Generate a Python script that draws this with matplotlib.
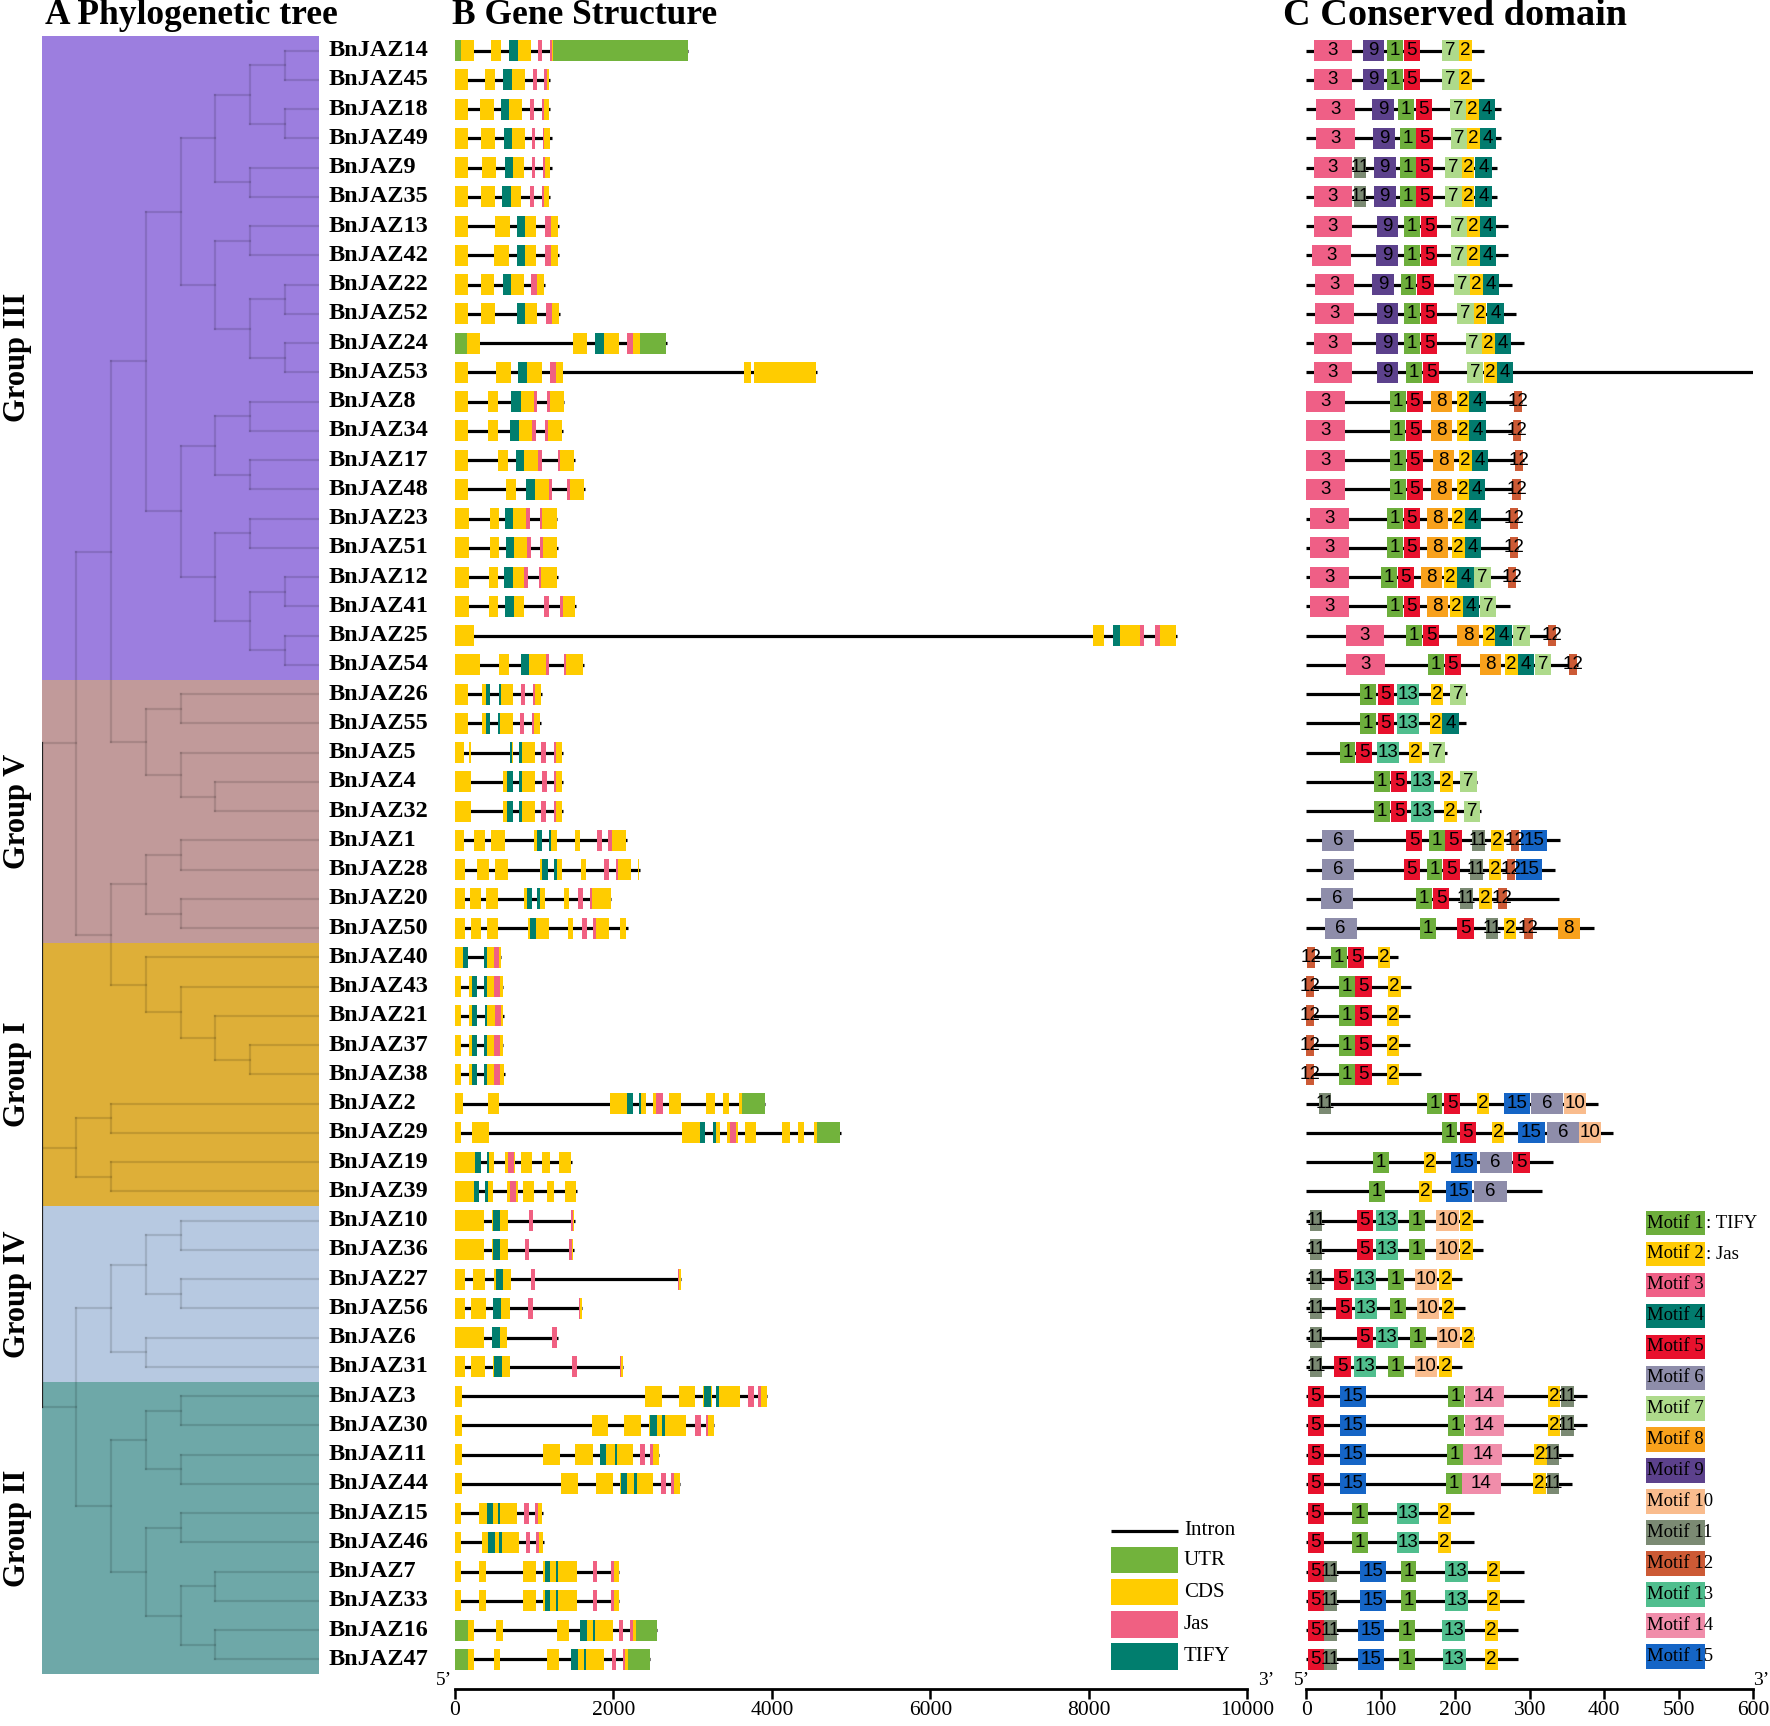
import matplotlib.pyplot as plt
from matplotlib.patches import Rectangle

plt.rcParams["font.family"] = ["Liberation Serif", "DejaVu Serif"]

# ---------------- data ----------------
gene_order = [14, 45, 18, 49, 9, 35, 13, 42, 22, 52, 24, 53, 8, 34, 17, 48, 23, 51, 12, 41, 25, 54,
              26, 55, 5, 4, 32, 1, 28, 20, 50, 40, 43, 21, 37, 38, 2, 29, 19, 39,
              10, 36, 27, 56, 6, 31, 3, 30, 11, 44, 15, 46, 7, 33, 16, 47]

group3 = (((((14, 45), (18, 49)), (9, 35)), ((13, 42), ((22, 52), (24, 53)))),
          (((8, 34), (17, 48)), ((23, 51), ((12, 41), (25, 54)))))
group5a = ((26, 55), (5, (4, 32)))
group5b = ((1, 28), (20, 50))
group1a = (40, (43, (21, (37, 38))))
group1b = ((2, 29), (19, 39))
group4 = (((10, 36), (27, 56)), (6, 31))
group2 = (((3, 30), (11, 44)), ((15, 46), ((7, 33), (16, 47))))
tree = (((group3, group5a), (group5b, group1a)), group1b, (group4, group2))

group_names = ["Group III", "Group V", "Group I", "Group IV", "Group II"]
group_rows = [(0, 21), (22, 30), (31, 39), (40, 45), (46, 55)]
group_colors = ["#9C7EDF", "#C19A9A", "#DEAF38", "#B7C9E1", "#6EA8A8"]

# gene structure (bp)
gene_len = {14: 2936, 45: 1197, 18: 1197, 49: 1221, 9: 1221, 35: 1197, 13: 1308, 42: 1308,
            22: 1134, 52: 1323, 24: 2674, 53: 4569, 8: 1381, 34: 1361, 17: 1516, 48: 1638,
            23: 1294, 51: 1303, 12: 1303, 41: 1526, 25: 9110, 54: 1623, 26: 1100, 55: 1090,
            5: 1361, 4: 1361, 32: 1361, 1: 2170, 28: 2337, 20: 1975, 50: 2179, 40: 579,
            43: 606, 21: 615, 37: 606, 38: 633, 2: 3910, 29: 4868, 19: 1474, 39: 1546,
            10: 1514, 36: 1501, 27: 2857, 56: 1602, 6: 1298, 31: 2125, 3: 3941, 30: 3275,
            11: 2578, 44: 2836, 15: 1111, 46: 1124, 7: 2074, 33: 2074, 16: 2545, 47: 2468}

utr = {14: [(0, 73), (1240, 2936)], 24: [(0, 150), (2330, 2665)], 2: [(3625, 3910)],
       29: [(4574, 4859)], 16: [(0, 162), (2287, 2545)], 47: [(0, 162), (2190, 2468)]}

cds = {14: [(73, 237), (455, 581), (688, 959), (1200, 1240)],
       45: [(0, 165), (383, 509), (610, 887), (1129, 1187)],
       18: [(0, 165), (320, 489), (581, 848), (1095, 1182)],
       49: [(0, 165), (334, 504), (615, 882), (1110, 1206)],
       9: [(0, 165), (344, 518), (630, 872), (1114, 1206)],
       35: [(0, 165), (329, 504), (596, 838), (1095, 1187)],
       13: [(0, 165), (504, 693), (785, 1027), (1139, 1298)],
       42: [(0, 165), (499, 688), (785, 1027), (1139, 1298)],
       22: [(0, 170), (325, 494), (601, 867), (964, 1129)],
       52: [(0, 170), (325, 509), (780, 1042), (1148, 1308)],
       24: [(150, 315), (1487, 1672), (1773, 2074), (2171, 2330)],
       53: [(0, 165), (514, 703), (799, 1105), (1202, 1361), (3643, 3735), (3769, 4559)],
       8: [(0, 165), (412, 538), (712, 1042), (1168, 1376)],
       34: [(0, 165), (412, 538), (693, 1022), (1143, 1352)],
       17: [(0, 165), (538, 669), (765, 1100), (1298, 1506)],
       48: [(0, 165), (644, 775), (901, 1231), (1420, 1628)],
       23: [(0, 184), (441, 552), (630, 950), (1071, 1284)],
       51: [(0, 184), (446, 557), (640, 959), (1080, 1294)],
       12: [(0, 184), (436, 547), (625, 921), (1056, 1294)],
       41: [(0, 184), (436, 547), (630, 877), (1332, 1516)],
       25: [(0, 240), (8051, 8194), (8308, 8692), (8835, 9106)],
       54: [(0, 320), (562, 683), (829, 1192), (1371, 1613)],
       26: [(0, 165), (344, 446), (557, 739), (984, 1090)],
       55: [(0, 165), (344, 441), (547, 729), (970, 1080)],
       5: [(0, 121), (174, 208), (693, 732), (814, 1013), (1250, 1352)],
       4: [(0, 208), (610, 731), (814, 1013), (1250, 1352)],
       32: [(0, 208), (610, 731), (814, 1013), (1250, 1352)],
       1: [(0, 121), (242, 378), (460, 635), (1003, 1100), (1187, 1284), (1516, 1575), (1933, 2161)],
       28: [(0, 131), (285, 425), (506, 673), (1076, 1171), (1248, 1356), (1591, 1654), (2029, 2224), (2314, 2328)],
       20: [(0, 131), (190, 325), (398, 538), (877, 967), (1040, 1139), (1379, 1442), (1700, 1966)],
       50: [(0, 131), (199, 334), (407, 538), (922, 1184), (1428, 1487), (1745, 1944), (2079, 2165)],
       40: [(0, 167), (371, 579)],
       43: [(0, 77), (172, 280), (371, 606)],
       21: [(0, 77), (172, 285), (380, 610)],
       37: [(0, 77), (172, 285), (371, 606)],
       38: [(0, 77), (172, 285), (371, 624)],
       2: [(0, 108), (416, 551), (1953, 2246), (2324, 2414), (2504, 2631), (2708, 2848), (3173, 3282), (3381, 3458), (3580, 3625)],
       29: [(0, 81), (212, 425), (2870, 3159), (3263, 3349), (3435, 3571), (3661, 3797), (4122, 4226), (4335, 4407), (4529, 4574)],
       19: [(0, 325), (402, 493), (633, 764), (832, 972), (1094, 1198), (1311, 1460)],
       39: [(0, 307), (380, 484), (655, 791), (863, 994), (1162, 1252), (1388, 1532)],
       10: [(0, 371), (470, 673), (1460, 1501)],
       36: [(0, 371), (470, 673), (1446, 1492)],
       27: [(0, 122), (226, 384), (497, 714), (2811, 2848)],
       56: [(0, 123), (207, 388), (484, 691), (1563, 1602)],
       6: [(0, 368), (465, 659)],
       31: [(0, 123), (207, 381), (484, 691), (2080, 2119)],
       3: [(0, 90), (2403, 2616), (2823, 3030), (3133, 3243), (3295, 3598), (3824, 3941)],
       30: [(0, 90), (1725, 1938), (2132, 2351), (2455, 2920), (3165, 3275)],
       11: [(0, 90), (1111, 1324), (1518, 1738), (1828, 2248), (2468, 2578)],
       44: [(0, 90), (1344, 1557), (1777, 1990), (2080, 2506), (2726, 2836)],
       15: [(0, 78), (310, 788), (1014, 1105)],
       46: [(0, 78), (336, 814), (1027, 1118)],
       7: [(0, 78), (304, 388), (859, 1027), (1111, 1538), (1970, 2074)],
       33: [(0, 78), (304, 388), (859, 1027), (1111, 1538), (1970, 2074)],
       16: [(162, 245), (523, 607), (1286, 1441), (1583, 1996), (2209, 2287)],
       47: [(162, 245), (491, 575), (1163, 1311), (1466, 1886), (2119, 2190)]}

jas = {14: [(1046, 1105), (1200, 1230)], 45: [(984, 1032), (1129, 1158)],
       18: [(950, 998), (1095, 1119)], 49: [(969, 1017), (1110, 1129)],
       9: [(969, 1017), (1114, 1139)], 35: [(950, 1003), (1095, 1119)],
       13: [(1139, 1211)], 42: [(1139, 1211)], 22: [(964, 1042)], 52: [(1148, 1226)],
       24: [(2171, 2248)], 53: [(1202, 1274)], 8: [(993, 1042), (1168, 1197)],
       34: [(969, 1022), (1143, 1177)], 17: [(1047, 1100), (1298, 1327)],
       48: [(1187, 1231), (1420, 1454)], 23: [(896, 950), (1071, 1105)],
       51: [(911, 959), (1080, 1110)], 12: [(877, 921), (1056, 1085)],
       41: [(1129, 1192), (1332, 1366)], 25: [(8650, 8692), (8835, 8892)],
       54: [(1153, 1192), (1371, 1405)], 26: [(834, 882), (984, 1008)],
       55: [(824, 872), (970, 994)], 5: [(1090, 1148), (1250, 1274)],
       4: [(1100, 1158), (1250, 1274)], 32: [(1090, 1148), (1250, 1274)],
       1: [(1793, 1851), (1933, 1982)], 28: [(1880, 1944), (2029, 2057)],
       20: [(1555, 1618), (1700, 1736)], 50: [(1600, 1663), (1745, 1781)],
       40: [(497, 560)], 43: [(497, 574)], 21: [(506, 579)], 37: [(497, 574)], 38: [(497, 565)],
       2: [(2540, 2622)], 29: [(3471, 3553)], 19: [(673, 746)], 39: [(696, 777)],
       10: [(931, 985), (1460, 1492)], 36: [(886, 940), (1446, 1482)],
       27: [(958, 1012), (2811, 2834)], 56: [(924, 982), (1563, 1583)],
       6: [(1227, 1292)], 31: [(1479, 1537), (2080, 2100)],
       3: [(3702, 3773), (3824, 3863)], 30: [(3030, 3101), (3165, 3198)],
       11: [(2332, 2397), (2468, 2500)], 44: [(2597, 2662), (2726, 2765)],
       15: [(872, 937), (1014, 1046)], 46: [(898, 950), (1027, 1059)],
       7: [(1738, 1796), (1970, 2003)], 33: [(1738, 1796), (1970, 2003)],
       16: [(2074, 2125), (2209, 2242)], 47: [(1983, 2035), (2119, 2151)]}

tify = {14: [(688, 795)], 45: [(610, 722)], 18: [(581, 688)], 49: [(615, 722)], 9: [(630, 736)],
        35: [(596, 703)], 13: [(785, 891)], 42: [(785, 891)], 22: [(601, 707)], 52: [(780, 887)],
        24: [(1773, 1885)], 53: [(799, 916)], 8: [(712, 828)], 34: [(693, 809)], 17: [(765, 877)],
        48: [(901, 1017)], 23: [(630, 736)], 51: [(640, 746)], 12: [(625, 731)], 41: [(630, 741)],
        25: [(8308, 8393)], 54: [(829, 936)], 26: [(392, 446), (557, 582)], 55: [(392, 441), (547, 572)],
        5: [(698, 727), (814, 848)], 4: [(659, 731), (814, 853)], 32: [(659, 731), (814, 853)],
        1: [(1032, 1100), (1187, 1216)], 28: [(1103, 1171), (1248, 1284)],
        20: [(913, 967), (1040, 1076)], 50: [(949, 1026)], 40: [(99, 167), (371, 402)],
        43: [(217, 280), (371, 402)], 21: [(217, 285), (380, 411)], 37: [(217, 285), (371, 402)],
        38: [(217, 285), (371, 402)], 2: [(2170, 2246), (2324, 2351)], 29: [(3092, 3159), (3263, 3291)],
        19: [(258, 325), (402, 425)], 39: [(240, 307), (380, 416)], 10: [(484, 574)], 36: [(484, 574)],
        27: [(520, 610)], 56: [(484, 581)], 6: [(465, 575)], 31: [(497, 594)],
        3: [(3146, 3230), (3295, 3327)], 30: [(2468, 2545), (2617, 2649)],
        11: [(1828, 1906), (2016, 2048)], 44: [(2093, 2171), (2261, 2293)],
        15: [(400, 485), (543, 575)], 46: [(420, 504), (562, 594)],
        7: [(1131, 1202), (1273, 1305)], 33: [(1131, 1202), (1273, 1305)],
        16: [(1583, 1673), (1738, 1764)], 47: [(1466, 1550), (1628, 1660)]}

# conserved motifs (aa): (motif, start)
motif_width = {1: 21, 2: 17, 3: 52, 4: 22, 5: 22, 6: 43, 7: 22, 8: 29, 9: 29,
               10: 30, 11: 17, 12: 11, 13: 30, 14: 52, 15: 35}
motif_colors = {1: "#6DAE3C", 2: "#FFCB05", 3: "#EF5F86", 4: "#027B6E", 5: "#E8112D",
                6: "#8E8DAA", 7: "#AEDA8B", 8: "#F8A11C", 9: "#5C418C", 10: "#F9BC8D",
                11: "#7B8A73", 12: "#CC5A35", 13: "#50BE8E", 14: "#F08DAA", 15: "#1565C6"}
prot_len = {14: 239, 45: 239, 18: 261, 49: 262, 9: 256, 35: 256, 13: 271, 42: 271, 22: 277,
            52: 282, 24: 292, 53: 602, 8: 290, 34: 289, 17: 292, 48: 288, 23: 284, 51: 284,
            12: 283, 41: 273, 25: 335, 54: 365, 26: 216, 55: 215, 5: 189, 4: 230, 32: 235,
            1: 341, 28: 334, 20: 339, 50: 386, 40: 124, 43: 141, 21: 139, 37: 139, 38: 154,
            2: 392, 29: 412, 19: 332, 39: 316, 10: 238, 36: 238, 27: 209, 56: 213, 6: 226,
            31: 209, 3: 377, 30: 377, 11: 358, 44: 357, 15: 226, 46: 226, 7: 293, 33: 293,
            16: 284, 47: 284}
motifs = {
    14: [(3, 10), (9, 76), (1, 109), (5, 131), (7, 183), (2, 205)],
    45: [(3, 10), (9, 76), (1, 109), (5, 131), (7, 183), (2, 205)],
    18: [(3, 13), (9, 89), (1, 124), (5, 147), (7, 193), (2, 215), (4, 232)],
    49: [(3, 13), (9, 90), (1, 126), (5, 148), (7, 194), (2, 216), (4, 233)],
    9: [(3, 10), (11, 64), (9, 91), (1, 126), (5, 148), (7, 187), (2, 209), (4, 227)],
    35: [(3, 10), (11, 64), (9, 91), (1, 126), (5, 148), (7, 187), (2, 209), (4, 227)],
    13: [(3, 10), (9, 95), (1, 132), (5, 154), (7, 194), (2, 216), (4, 233)],
    42: [(3, 8), (9, 94), (1, 132), (5, 154), (7, 194), (2, 216), (4, 233)],
    22: [(3, 12), (9, 89), (1, 127), (5, 149), (7, 198), (2, 220), (4, 237)],
    52: [(3, 12), (9, 95), (1, 132), (5, 154), (7, 203), (2, 225), (4, 243)],
    24: [(3, 10), (9, 94), (1, 132), (5, 154), (7, 214), (2, 236), (4, 253)],
    53: [(3, 10), (9, 95), (1, 134), (5, 157), (7, 216), (2, 239), (4, 256)],
    8: [(3, 0), (1, 113), (5, 135), (8, 167), (2, 203), (4, 219), (12, 279)],
    34: [(3, 0), (1, 112), (5, 134), (8, 167), (2, 203), (4, 219), (12, 278)],
    17: [(3, 0), (1, 113), (5, 135), (8, 170), (2, 205), (4, 222), (12, 280)],
    48: [(3, 0), (1, 113), (5, 135), (8, 167), (2, 202), (4, 218), (12, 277)],
    23: [(3, 5), (1, 109), (5, 131), (8, 162), (2, 196), (4, 213), (12, 273)],
    51: [(3, 5), (1, 109), (5, 131), (8, 162), (2, 196), (4, 213), (12, 274)],
    12: [(3, 5), (1, 101), (5, 123), (8, 154), (2, 185), (4, 203), (7, 226), (12, 271)],
    41: [(3, 5), (1, 109), (5, 131), (8, 162), (2, 193), (4, 210), (7, 233)],
    25: [(3, 53), (1, 134), (5, 157), (8, 203), (2, 238), (4, 254), (7, 278), (12, 324)],
    54: [(3, 54), (1, 164), (5, 186), (8, 233), (2, 267), (4, 284), (7, 307), (12, 353)],
    26: [(1, 73), (5, 96), (13, 122), (2, 167), (7, 193)],
    55: [(1, 73), (5, 96), (13, 122), (2, 166), (4, 183)],
    5: [(1, 45), (5, 67), (13, 95), (2, 138), (7, 165)],
    4: [(1, 91), (5, 114), (13, 141), (2, 180), (7, 207)],
    32: [(1, 91), (5, 114), (13, 141), (2, 185), (7, 212)],
    1: [(6, 21), (5, 134), (1, 165), (5, 187), (11, 223), (2, 248), (12, 275), (15, 288)],
    28: [(6, 21), (5, 131), (1, 162), (5, 184), (11, 220), (2, 245), (12, 270), (15, 282)],
    20: [(6, 20), (1, 148), (5, 170), (11, 207), (2, 232), (12, 258)],
    50: [(6, 25), (1, 153), (5, 203), (11, 241), (2, 265), (12, 293), (8, 338)],
    40: [(12, 1), (1, 34), (5, 56), (2, 96)],
    43: [(12, 0), (1, 44), (5, 66), (2, 110)],
    21: [(12, 0), (1, 44), (5, 66), (2, 108)],
    37: [(12, 0), (1, 44), (5, 66), (2, 108)],
    38: [(12, 0), (1, 44), (5, 66), (2, 108)],
    2: [(11, 17), (1, 162), (5, 185), (2, 229), (15, 265), (6, 302), (10, 346)],
    29: [(1, 182), (5, 206), (2, 249), (15, 285), (6, 323), (10, 366)],
    19: [(1, 90), (2, 158), (15, 195), (6, 233), (5, 278)],
    39: [(1, 85), (2, 152), (15, 188), (6, 226)],
    10: [(11, 5), (5, 68), (13, 94), (1, 138), (10, 175), (2, 207)],
    36: [(11, 5), (5, 68), (13, 94), (1, 138), (10, 175), (2, 207)],
    27: [(11, 5), (5, 38), (13, 64), (1, 110), (10, 146), (2, 179)],
    56: [(11, 5), (5, 40), (13, 65), (1, 113), (10, 149), (2, 182)],
    6: [(11, 5), (5, 68), (13, 94), (1, 140), (10, 176), (2, 209)],
    31: [(11, 5), (5, 38), (13, 64), (1, 110), (10, 146), (2, 179)],
    3: [(5, 2), (15, 45), (1, 191), (14, 213), (2, 324), (11, 342)],
    30: [(5, 2), (15, 45), (1, 191), (14, 213), (2, 324), (11, 342)],
    11: [(5, 2), (15, 45), (1, 189), (14, 211), (2, 306), (11, 323)],
    44: [(5, 2), (15, 45), (1, 188), (14, 209), (2, 305), (11, 323)],
    15: [(5, 2), (1, 62), (13, 122), (2, 177)],
    46: [(5, 2), (1, 62), (13, 122), (2, 177)],
    7: [(5, 2), (11, 24), (15, 72), (1, 127), (13, 187), (2, 243)],
    33: [(5, 2), (11, 24), (15, 72), (1, 127), (13, 187), (2, 243)],
    16: [(5, 2), (11, 24), (15, 70), (1, 125), (13, 183), (2, 240)],
    47: [(5, 2), (11, 24), (15, 70), (1, 125), (13, 184), (2, 240)],
}

UTR_C, CDS_C, JAS_C, TIFY_C = "#72B33C", "#FFCC00", "#F06082", "#017E6E"

# ---------------- figure ----------------
fig = plt.figure(figsize=(17.7, 17.26), dpi=100)
bottom, height = 0.0216, 0.9575
ylims = (56, -0.5)
ax_t = fig.add_axes([0.0236, bottom, 0.1569, height])
ax_g = fig.add_axes([0.2570, bottom, 0.4477, height])
ax_d = fig.add_axes([0.7379, bottom, 0.2526, height])

row = {g: i for i, g in enumerate(gene_order)}
tip_x = 8

# ---- tree ----
ax_t.set_xlim(0, tip_x)
ax_t.set_ylim(*ylims)
ax_t.axis("off")
for (a, b), c in zip(group_rows, group_colors):
    ax_t.add_patch(Rectangle((0, a - 0.5), tip_x, b - a + 1, color=c, lw=0, zorder=0))

branch_kw = dict(color="black", alpha=0.13, lw=1.6, zorder=2)


def draw(node, depth):
    if isinstance(node, int):
        return row[node], tip_x
    ys = []
    for ch in node:
        cy, cx = draw(ch, depth + 1)
        ax_t.plot([depth, cx], [cy, cy], **branch_kw)
        ys.append(cy)
    if depth == 0:
        ax_t.plot([0, 0], [ys[0], ys[-1]], color="#222222", lw=1.6, zorder=3)
    else:
        ax_t.plot([depth, depth], [ys[0], ys[-1]], **branch_kw)
    return (ys[0] + ys[-1]) / 2, depth


draw(tree, 0)

for g in gene_order:
    ax_t.text(tip_x + 0.26, row[g], f"BnJAZ{g}", fontsize=17.5, fontweight="bold",
              va="center", ha="left", clip_on=False)

for name, (a, b) in zip(group_names, group_rows):
    ax_t.text(-0.7, (a + b) / 2, name, rotation=90, fontsize=22, fontweight="bold",
              ha="center", va="center", clip_on=False)

# ---- gene structure ----
h = 0.72
ax_g.set_xlim(0, 10000)
ax_g.set_ylim(*ylims)
for g in gene_order:
    y = row[g]
    ax_g.plot([0, gene_len[g]], [y, y], color="black", lw=2.3, solid_capstyle="butt", zorder=1)
    for blocks, col, z in ((utr, UTR_C, 2), (cds, CDS_C, 2), (jas, JAS_C, 3), (tify, TIFY_C, 3)):
        for s, e in blocks.get(g, []):
            ax_g.add_patch(Rectangle((s, y - h / 2), e - s, h, color=col, lw=0, zorder=z))

# legend of gene structure
leg_x0, leg_x1 = 8280, 9120
ax_g.plot([leg_x0, leg_x1], [50.6, 50.6], color="black", lw=2.3, solid_capstyle="butt")
ax_g.text(leg_x1 + 80, 50.6, "Intron", fontsize=15, va="center")
for yy, col, lab in zip([51.6, 52.7, 53.8, 54.9], [UTR_C, CDS_C, JAS_C, TIFY_C],
                        ["UTR", "CDS", "Jas", "TIFY"]):
    ax_g.add_patch(Rectangle((leg_x0, yy - 0.45), leg_x1 - leg_x0, 0.9, color=col, lw=0))
    ax_g.text(leg_x1 + 80, yy, lab, fontsize=15, va="center")

# ---- conserved domains ----
ax_d.set_xlim(0, 600)
ax_d.set_ylim(*ylims)
for g in gene_order:
    y = row[g]
    ax_d.plot([0, prot_len[g]], [y, y], color="black", lw=2.3, solid_capstyle="butt", zorder=1)
    for m, s in motifs[g]:
        w = motif_width[m]
        ax_d.add_patch(Rectangle((s, y - h / 2), w, h, color=motif_colors[m], lw=0, zorder=2))
        ax_d.text(s + w / 2, y, str(m), fontsize=13.5, family="Liberation Sans",
                  ha="center", va="center", zorder=3)

# motif legend
for k in range(1, 16):
    yy = 40.08 + (k - 1) * 1.058
    ax_d.add_patch(Rectangle((456, yy - 0.42), 79, 0.84, color=motif_colors[k], lw=0))
    ax_d.text(457, yy, f"Motif {k}", fontsize=13.5, va="center", ha="left", clip_on=False)
ax_d.text(537, 40.08, ": TIFY", fontsize=13.5, va="center", ha="left", clip_on=False)
ax_d.text(537, 41.14, ": Jas", fontsize=13.5, va="center", ha="left", clip_on=False)

# axes styling
for ax, ticks in ((ax_g, range(0, 10001, 2000)), (ax_d, range(0, 601, 100))):
    for s in ("left", "top", "right"):
        ax.spines[s].set_visible(False)
    ax.spines["bottom"].set_linewidth(2)
    ax.set_yticks([])
    ax.set_xticks(list(ticks))
    ax.tick_params(axis="x", length=7, width=1.8, labelsize=15.5, pad=2)

ax_g.text(-0.014, 0.0, "5\u2019", transform=ax_g.transAxes, fontsize=14, ha="center", va="bottom")
ax_g.text(1.024, 0.0, "3\u2019", transform=ax_g.transAxes, fontsize=14, ha="center", va="bottom")
ax_d.text(-0.01, 0.0, "5\u2019", transform=ax_d.transAxes, fontsize=14, ha="center", va="bottom")
ax_d.text(1.018, 0.0, "3\u2019", transform=ax_d.transAxes, fontsize=14, ha="center", va="bottom")

# panel titles
fig.text(0.0255, 0.9908, "A Phylogenetic tree", fontsize=25.5, fontweight="bold", va="center")
fig.text(0.2551, 0.9908, "B Gene Structure", fontsize=25.5, fontweight="bold", va="center")
fig.text(0.7251, 0.9908, "C Conserved domain", fontsize=27.5, fontweight="bold", va="center")

fig.savefig("out.png", dpi=100)
